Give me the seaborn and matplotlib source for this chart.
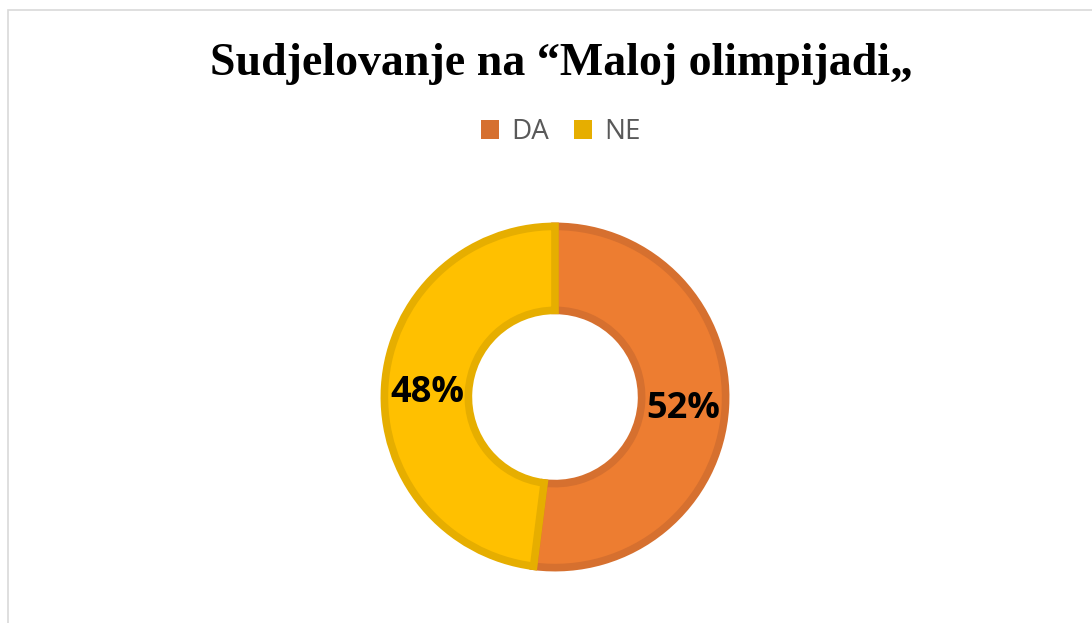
import matplotlib.pyplot as plt
import seaborn as sns
from matplotlib.patches import Rectangle

# data
categories = ["DA", "NE"]
shares = [52, 48]
fill_colors = ["#ED7D31", "#FFC000"]
edge_colors = ["#D6702F", "#E6AE00"]
title = "Sudjelovanje na \u201cMaloj olimpijadi\u201e"

sns.set_theme(style="white")
plt.rcParams["font.family"] = ["Open Sans", "DejaVu Sans"]

fig = plt.figure(figsize=(10.92, 6.23), dpi=100)
W, H = 1092, 623

# light frame around the chart area (only left and top visible)
fig.patches.append(Rectangle((8 / W, -0.1), 1.2, (H - 10) / H + 0.1,
                             transform=fig.transFigure, fill=False,
                             edgecolor="#D9D9D9", linewidth=1.2))

# donut axes: centre (555, 395), radius 175 px
ax = fig.add_axes([380 / W, (H - 397 - 175) / H, 350 / W, 350 / H])
wedges, texts, autotexts = ax.pie(
    shares, colors=fill_colors, startangle=90, counterclock=False,
    radius=0.975, autopct="%d%%", pctdistance=0.75,
    wedgeprops=dict(width=0.48, linewidth=5.5),
    textprops=dict(fontsize=26, fontweight="bold", color="black"))
for w, ec in zip(wedges, edge_colors):
    w.set_edgecolor(ec)
for t in autotexts:
    x, y = t.get_position()
    t.set_position((x, y - 0.025))
ax.set_xlim(-1, 1)
ax.set_ylim(-1, 1)
ax.set_aspect("equal")
ax.axis("off")

fig.text(561 / W, 1 - 64 / H, title, ha="center", va="center", color="black",
         fontsize=33, fontweight="bold", family=["Liberation Serif", "DejaVu Serif"])

handles = [Rectangle((0, 0), 1, 1, facecolor=c, edgecolor="none") for c in edge_colors]
fig.legend(handles, categories, loc="center", bbox_to_anchor=(561 / W, 1 - 132 / H),
           ncol=2, frameon=False, fontsize=20, labelcolor="#595959",
           handlelength=0.65, handleheight=0.65, handletextpad=0.45,
           columnspacing=0.9)

fig.savefig("out.png", dpi=100, facecolor="white")
